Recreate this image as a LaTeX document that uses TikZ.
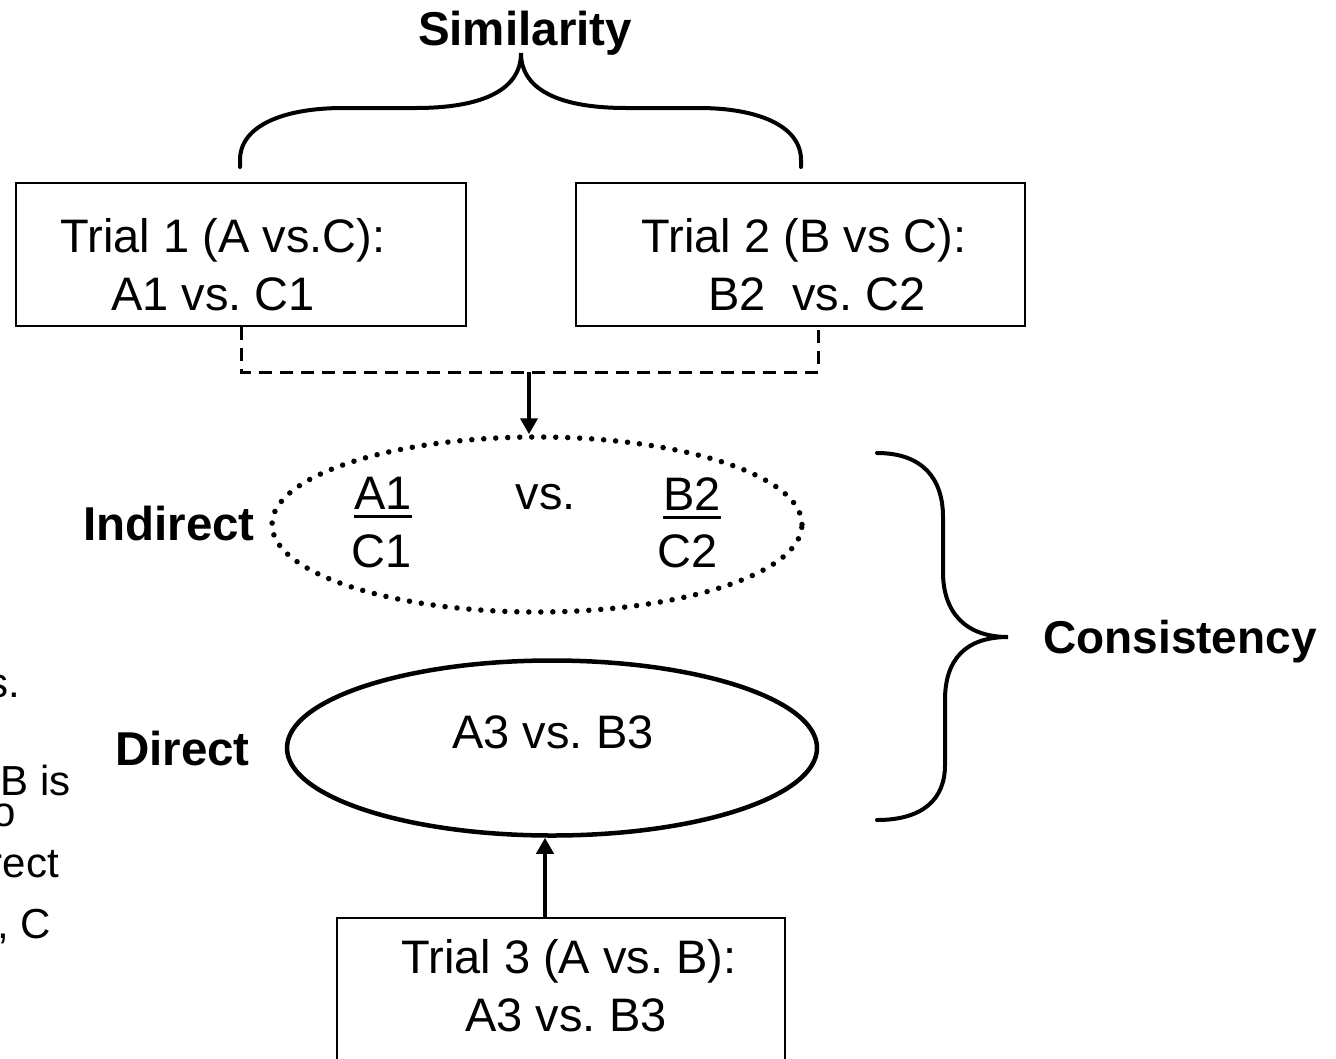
\documentclass[tikz,border=0pt]{standalone}
\usepackage{fontspec}
\setmainfont{Liberation Sans}
\usetikzlibrary{arrows.meta,shapes.geometric}
\frenchspacing
\begin{document}
\begin{tikzpicture}[x=1pt,y=-1pt,
  txt/.style={font=\fontsize{47}{55}\selectfont, inner sep=0pt},
  margintxt/.style={font=\fontsize{42}{50}\selectfont, inner sep=0pt, anchor=base east},
  boldtxt/.style={font=\fontsize{47.5}{55}\selectfont\bfseries, inner sep=0pt},
  trialbox/.style={draw, line width=2pt, inner sep=0pt, anchor=north west},
  brace/.style={line width=4pt, line cap=round},
  conn/.style={line width=4pt, -{Triangle[length=16pt,width=17pt]}},
  dashline/.style={line width=3pt, dash pattern=on 13pt off 8pt},
  oval/.style={ellipse, inner sep=0pt, minimum width=530pt, minimum height=175pt},
]
\useasboundingbox (0,0) rectangle (1336,1058);

% trial boxes
\node[trialbox, minimum width=450pt, minimum height=143pt] (box1) at (15,182) {};
\node[trialbox, minimum width=449pt, minimum height=143pt] (box2) at (575,182) {};
\node[trialbox, minimum width=448pt, minimum height=220pt] (box3) at (336,917) {};

\node[txt, anchor=base] (t1a) at (223,252) {Trial 1 (A vs.C):};
\node[txt, anchor=base] (t1b) at (213,310) {A1 vs. C1};
\node[txt, anchor=base] (t2a) at (804,252) {Trial 2 (B vs C):};
\node[txt, anchor=base] (t2b) at (817,310) {B2\ \ vs. C2};
\node[txt, anchor=base] (t3a) at (569,973) {Trial 3 (A vs. B):};
\node[txt, anchor=base] (t3b) at (566,1031) {A3 vs. B3};

% indirect comparison
\node[oval, draw, line width=5.5pt, line cap=round, dash pattern=on 0pt off 12pt] (indirect) at (537,524.5) {};
\node[txt, anchor=base] (a1) at (383,509) {A1};
\node[txt, anchor=base] (c1) at (382,567) {C1};
\node[txt, anchor=base] (vs) at (546,509) {vs.};
\node[txt, anchor=base] (b2) at (692,510) {B2};
\node[txt, anchor=base] (c2) at (688,567) {C2};
\draw[line width=3pt] ([yshift=-7pt]a1.base west) -- ([yshift=-7pt]a1.base east);
\draw[line width=3pt] ([yshift=-7pt]b2.base west) -- ([yshift=-7pt]b2.base east);

% direct comparison
\node[oval, draw, line width=4.5pt] (direct) at (552,748) {};
\node[txt, anchor=base] (a3b3) at (553,748) {A3 vs. B3};

% labels
\node[boldtxt, anchor=base] (sim) at (525,45) {Similarity};
\node[boldtxt, anchor=base west] (indlab) at (83,540) {Indirect};
\node[boldtxt, anchor=base west] (dirlab) at (115,765) {Direct};
\node[boldtxt, font=\fontsize{46}{55}\selectfont\bfseries, anchor=base west] (cons) at (1043,653) {Consistency};

% text running in from the left margin
\node[margintxt] (m1) at (20,697) {s.};
\node[margintxt] (m2) at (71,795) {B is};
\node[margintxt] (m3) at (16,826) {o};
\node[margintxt] (m4) at (59,877) {rect};
\node[margintxt] (m5) at (51,938) {, C};

% dashed join under the first two trials
\coordinate (jn) at (529,372);
\coordinate (b2foot) at ([xshift=17.5pt]box2.south);
\draw[dashline] (box1.south) -- (box1.south |- jn) -- (b2foot |- jn) -- (b2foot);
\draw[conn] (jn) -- (jn |- indirect.north);

% trial 3 feeds the direct comparison
\coordinate (b3top) at ([xshift=-16pt]box3.north);
\draw[conn] (b3top) -- (b3top |- direct.south);

% brace over trials 1 and 2
\draw[brace] (240,167) -- (240,160) .. controls (240,125) and (285,108) .. (343,108)
  -- (416,108) .. controls (478,108) and (521,92) .. (521,53)
  .. controls (521,92) and (564,108) .. (626,108)
  -- (699,108) .. controls (756,108) and (801,125) .. (801,160) -- (801,167);

% brace gathering both comparisons
\draw[brace] (877,453) .. controls (922,453) and (943,478) .. (943,517)
  -- (943,572) .. controls (943,612) and (965,637) .. (1008,637)
  .. controls (965,637) and (945,660) .. (945,700)
  -- (945,765) .. controls (945,800) and (922,820) .. (877,820);
\end{tikzpicture}
\end{document}
